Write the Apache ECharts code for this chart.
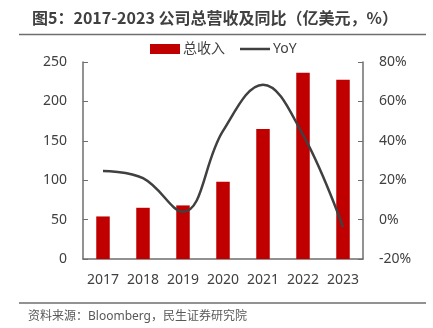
<!DOCTYPE html>
<html>
<head>
<meta charset="utf-8">
<script src="https://cdn.jsdelivr.net/npm/echarts@6/dist/echarts.min.js"></script>
<style>
  html, body { margin: 0; padding: 0; background: #fff; }
  #chart { width: 433px; height: 328px; }
</style>
</head>
<body>
<div id="chart"></div>
<script>
// Annual revenue (100M USD) and year-over-year growth (%)
const years = ['2017', '2018', '2019', '2020', '2021', '2022', '2023'];
const revenue = [54, 65, 68, 98, 165, 236.5, 227.5];
const yoy = [24.7, 21, 4, 45, 68.5, 43, -3.8];
const leftTicks = { min: 0, max: 250, interval: 50 };
const rightTicks = { min: -20, max: 80, interval: 20 };

const FONT = '"Noto Sans", "Noto Sans CJK SC", sans-serif';
const CJK = '"Noto Sans CJK SC", sans-serif';
const TEXT = '#404040';
const AXIS = '#6e6e6e';

const chart = echarts.init(document.getElementById('chart'), null, { renderer: 'canvas' });
chart.setOption({
  animation: false,
  textStyle: { fontFamily: FONT },
  title: {
    text: '图5：2017-2023 公司总营收及同比（亿美元，%）',
    left: 27, top: 5,
    textStyle: { fontFamily: CJK, fontSize: 16, fontWeight: 'bold', color: TEXT }
  },
  graphic: [
    { type: 'line', shape: { x1: 19, y1: 34.5, x2: 426, y2: 34.5 }, style: { stroke: '#6e6e6e', lineWidth: 1.5 } },
    { type: 'line', shape: { x1: 19, y1: 303, x2: 426, y2: 303 }, style: { stroke: '#6e6e6e', lineWidth: 1.5 } },
    { type: 'text', left: 28, top: 311,
      style: { text: '资料来源：Bloomberg，民生证券研究院', fontFamily: FONT, fontSize: 12, fill: '#595959' } }
  ],
  legend: {
    top: 37, left: 145,
    itemWidth: 30, itemHeight: 10, itemGap: 15,
    textStyle: { fontFamily: FONT, fontSize: 14, color: TEXT, padding: [0, 0, 0, -2] },
    data: [
      { name: '总收入', icon: 'rect' },
      { name: 'YoY', icon: 'path://M0,0 L30,0 L30,2.5 L0,2.5 Z' }
    ]
  },
  grid: { left: 83, right: 70, top: 62, bottom: 69 },
  xAxis: {
    type: 'category',
    data: years,
    axisLine: { lineStyle: { color: AXIS, width: 1.5 } },
    axisTick: { show: false },
    axisLabel: { color: TEXT, fontSize: 14, margin: 14, fontFamily: FONT, interval: 0 }
  },
  yAxis: [
    {
      type: 'value', ...leftTicks,
      axisLine: { show: true, lineStyle: { color: AXIS, width: 1.5 } },
      axisTick: { show: true, inside: true, length: 5, lineStyle: { color: AXIS } },
      splitLine: { show: false },
      axisLabel: { color: TEXT, fontSize: 14, margin: 16, fontFamily: FONT }
    },
    {
      type: 'value', ...rightTicks,
      axisLine: { show: true, lineStyle: { color: AXIS, width: 1.5 } },
      axisTick: { show: true, inside: true, length: 5, lineStyle: { color: AXIS } },
      splitLine: { show: false },
      axisLabel: { color: TEXT, fontSize: 14, margin: 16, fontFamily: FONT, formatter: '{value}%' }
    }
  ],
  series: [
    {
      name: '总收入', type: 'bar', data: revenue,
      barWidth: 13.5,
      itemStyle: { color: '#C00000' }
    },
    {
      name: 'YoY', type: 'line', yAxisIndex: 1, data: yoy,
      smooth: 0.4, symbol: 'none',
      lineStyle: { color: '#404040', width: 2.5 },
      itemStyle: { color: '#404040' }
    }
  ]
});
</script>
</body>
</html>
